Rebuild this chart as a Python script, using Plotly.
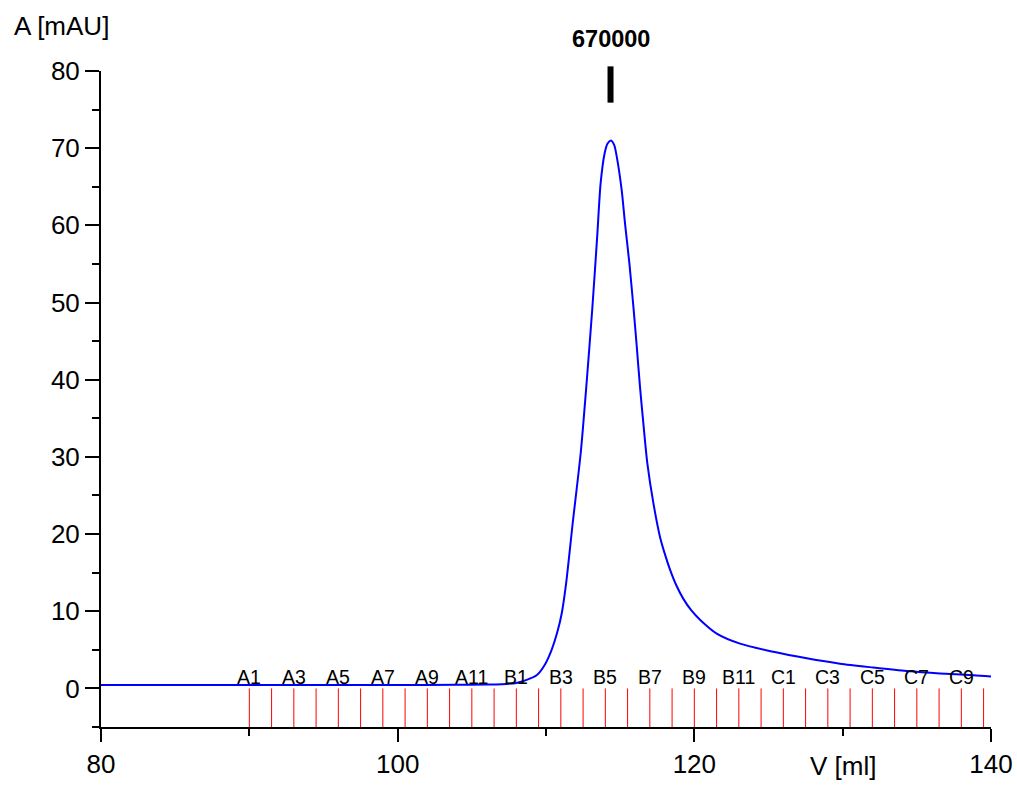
import plotly.graph_objects as go

# Elution profile: UV absorbance vs. elution volume
volume_ml = [80, 85, 90, 95, 100, 104, 106, 107, 108.0, 108.7, 109.37, 109.9,
             110.38, 110.75, 111.06, 111.35, 111.8, 112.35, 112.75, 113.12, 113.45,
             113.68, 113.95, 114.15, 114.38, 114.6, 114.77, 115.10, 115.33, 115.62,
             115.89, 116.11, 116.34, 116.56, 116.83, 117.24, 117.69, 118.0, 118.36,
             118.8, 119.26, 119.8, 120.38, 121.51, 123.08, 125.33, 127.58, 129.82,
             132.07, 134.32, 136.56, 138.81, 140]
absorbance_mau = [0.45, 0.45, 0.45, 0.45, 0.45, 0.47, 0.5, 0.55, 0.7, 1.1, 1.7, 3.0,
                  5.0, 7.2, 9.7, 13.5, 21.4, 30.7, 39.9, 49.2, 58.5,
                  65.4, 69.3, 70.6, 71.0, 70.4, 68.9, 64.6, 60.2, 55.1,
                  49.5, 44.5, 39.0, 34.4, 29.2, 24.0, 19.6, 17.5, 15.4,
                  13.3, 11.6, 10.1, 8.9, 7.1, 5.8, 4.75, 3.9, 3.2,
                  2.7, 2.25, 1.94, 1.72, 1.55]

# Fraction collection: 1.5 ml fractions starting at 90 ml
fraction_names = [f"A{i}" for i in range(1, 13)] + \
                 [f"B{i}" for i in range(1, 13)] + \
                 [f"C{i}" for i in range(1, 11)]
fraction_start_ml = [90 + 1.5 * i for i in range(len(fraction_names))]

# Calibration marker
marker_label = "670000"
marker_volume_ml = 114.35
marker_span_mau = [75.9, 80.6]

y_min, y_max = -5, 80
x_min, x_max = 80, 140
font_family = "Arial, Liberation Sans, sans-serif"

fig = go.Figure()

# fraction boundary ticks
fx, fy = [], []
for v in fraction_start_ml:
    fx += [v, v, None]
    fy += [y_min, 0, None]
fig.add_trace(go.Scatter(x=fx, y=fy, mode="lines",
                         line=dict(color="#ff0000", width=1),
                         hoverinfo="skip", showlegend=False))

# UV trace
fig.add_trace(go.Scatter(x=volume_ml, y=absorbance_mau, mode="lines",
                         line=dict(color="#0000ff", width=2, shape="spline", smoothing=0.7),
                         showlegend=False))

annotations = []
# label every other fraction
for name, v in list(zip(fraction_names, fraction_start_ml))[::2]:
    annotations.append(dict(x=v, y=0, xref="x", yref="y", text=name,
                            showarrow=False, xanchor="center", yanchor="bottom",
                            yshift=-2,
                            font=dict(family=font_family, size=19.5, color="black")))

annotations.append(dict(x=marker_volume_ml, y=1.071, xref="x", yref="paper",
                        text=f"<b>{marker_label}</b>", showarrow=False,
                        xanchor="center", yanchor="top",
                        font=dict(family=font_family, size=23.5, color="black")))
annotations.append(dict(x=-0.1, y=1.094, xref="paper", yref="paper",
                        text="A [mAU]", showarrow=False,
                        xanchor="left", yanchor="top",
                        font=dict(family=font_family, size=26, color="black")))
annotations.append(dict(x=130, y=-0.033, xref="x", yref="paper",
                        text="V [ml]", showarrow=False,
                        xanchor="center", yanchor="top",
                        font=dict(family=font_family, size=26, color="black")))

def to_paper(v):
    return (v - y_min) / (y_max - y_min)

shapes = [dict(type="line", xref="x", yref="paper",
               x0=marker_volume_ml, x1=marker_volume_ml,
               y0=to_paper(marker_span_mau[0]), y1=to_paper(marker_span_mau[1]),
               line=dict(color="black", width=6))]

axis_common = dict(showgrid=False, zeroline=False, showline=True, automargin=False,
                   linecolor="black", linewidth=2, ticks="outside",
                   tickcolor="black", tickwidth=2,
                   tickfont=dict(family=font_family, size=26, color="black"))

fig.update_layout(
    template="none",
    width=1017, height=785,
    margin=dict(l=101, r=26, t=71, b=58, pad=0, autoexpand=False),
    paper_bgcolor="white", plot_bgcolor="white",
    xaxis=dict(range=[x_min, x_max], tick0=80, dtick=20, ticklen=13,
               minor=dict(dtick=10, ticklen=7, tickwidth=2, tickcolor="black",
                          ticks="outside", showgrid=False),
               **axis_common),
    yaxis=dict(range=[y_min, y_max], tick0=0, dtick=10, ticklen=14,
               minor=dict(dtick=5, ticklen=7, tickwidth=2, tickcolor="black",
                          ticks="outside", showgrid=False),
               **axis_common),
    annotations=annotations,
    shapes=shapes,
    showlegend=False,
)

fig.write_html("out.html")
